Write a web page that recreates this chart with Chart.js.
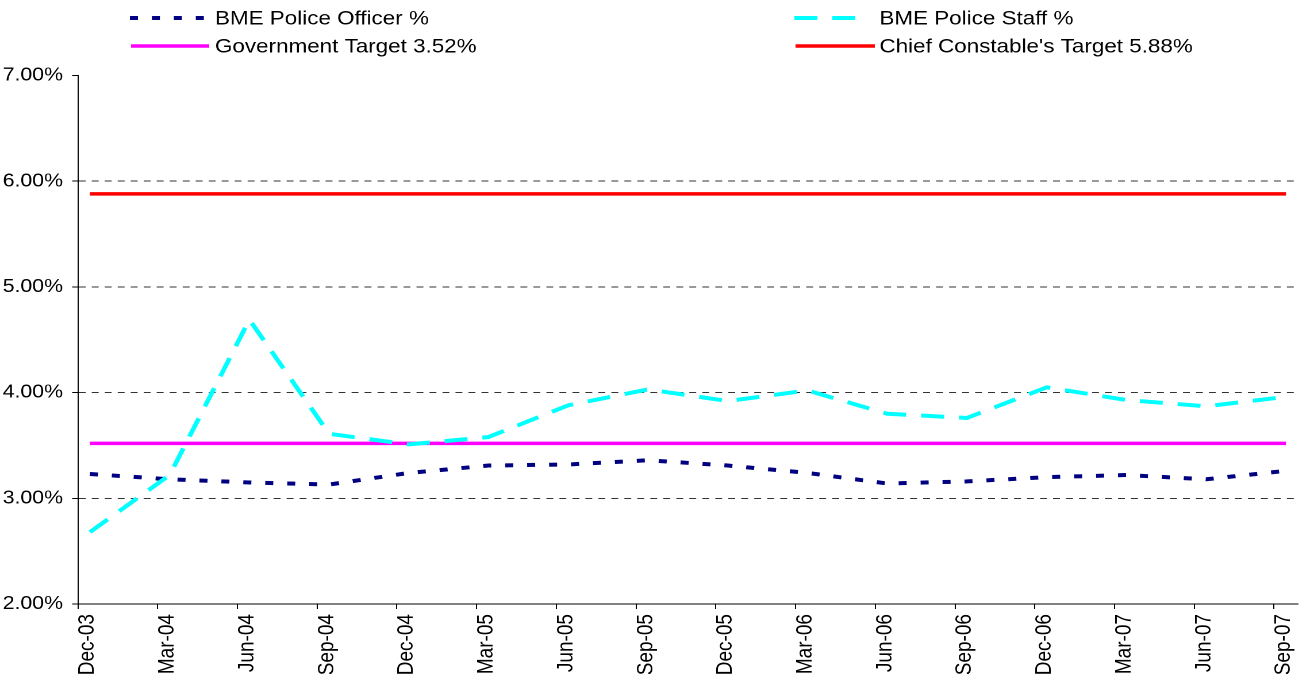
<!DOCTYPE html>
<html><head><meta charset="utf-8">
<script src="https://cdn.jsdelivr.net/npm/chart.js@4.4.1/dist/chart.umd.min.js"></script>
<style>
html,body{margin:0;padding:0;background:#fff;overflow:hidden;width:1306px;height:674px;}
#wrap{position:absolute;left:0;top:0;width:1136px;height:674px;transform:scaleX(1.1496);transform-origin:0 0;}
</style></head><body>
<div id="wrap"><canvas id="c" width="1136" height="674"></canvas></div>
<script>
const categories = ['Dec-03','Mar-04','Jun-04','Sep-04','Dec-04','Mar-05','Jun-05','Sep-05','Dec-05','Mar-06','Jun-06','Sep-06','Dec-06','Mar-07','Jun-07','Sep-07'];
const officerPct = [3.23,3.18,3.15,3.13,3.24,3.31,3.32,3.36,3.31,3.24,3.14,3.16,3.20,3.22,3.18,3.26];
const staffPct   = [2.68,3.22,4.69,3.61,3.51,3.58,3.88,4.03,3.92,4.02,3.80,3.76,4.05,3.93,3.87,3.96];
const governmentTarget = 3.52;
const chiefConstableTarget = 5.88;
const yMin = 2, yMax = 7, yStep = 1;
const seriesNames = ['BME Police Officer %','BME Police Staff %','Government Target 3.52%',"Chief Constable's Target 5.88%"];

const POINT_SHIFT = 0.15;
const FONT = '"Liberation Sans", Arial, sans-serif';
const toPoints = vals => vals.map((v,i)=>({x:i+POINT_SHIFT,y:v}));
const constPoints = v => categories.map((c,i)=>({x:i+POINT_SHIFT,y:v}));

const legendPlugin = {
  id:'gridLegend',
  afterDraw(chart){
    const ctx = chart.ctx;
    const items = [
      {ds:0, x:113, len:65, tx:187, y:18},
      {ds:1, x:691, len:58, tx:765, y:18},
      {ds:2, x:114, len:68, tx:187, y:46},
      {ds:3, x:692, len:69, tx:765, y:46}
    ];
    ctx.save();
    ctx.font = '19.5px ' + FONT;
    ctx.textBaseline = 'middle';
    ctx.textAlign = 'left';
    items.forEach(it=>{
      const ds = chart.data.datasets[it.ds];
      ctx.beginPath();
      ctx.setLineDash(ds.borderDash || []);
      ctx.lineWidth = ds.borderWidth;
      ctx.strokeStyle = ds.borderColor;
      ctx.lineCap = 'butt';
      ctx.moveTo(it.x, it.y); ctx.lineTo(it.x + it.len, it.y); ctx.stroke();
      ctx.setLineDash([]);
      ctx.fillStyle = '#000';
      ctx.fillText(ds.label, it.tx, it.y + 1);
    });
    ctx.restore();
  }
};

new Chart(document.getElementById('c'), {
  type:'line',
  data:{
    datasets:[
      {label:seriesNames[0], data:toPoints(officerPct), borderColor:'#000080', borderWidth:4, borderDash:[7,12.1], pointRadius:0, tension:0, fill:false, order:2},
      {label:seriesNames[1], data:toPoints(staffPct), borderColor:'#00FFFF', borderWidth:4, borderDash:[20,13], pointRadius:0, tension:0, fill:false, order:1},
      {label:seriesNames[2], data:constPoints(governmentTarget), borderColor:'#FF00FF', borderWidth:3.5, pointRadius:0, tension:0, fill:false, order:3},
      {label:seriesNames[3], data:constPoints(chiefConstableTarget), borderColor:'#FF0000', borderWidth:3.5, pointRadius:0, tension:0, fill:false, order:4}
    ]
  },
  options:{
    responsive:false,
    devicePixelRatio:2,
    animation:false,
    events:[],
    layout:{padding:{top:75.5,left:0,right:0,bottom:0}, autoPadding:false},
    plugins:{legend:{display:false}, tooltip:{enabled:false}},
    scales:{
      x:{
        type:'linear', min:0, max:15.3,
        afterFit(s){ s.height = 70; },
        grid:{drawOnChartArea:false, drawTicks:true, tickLength:5, tickColor:'#000', tickWidth:1},
        border:{display:true, color:'#000', width:1},
        ticks:{
          stepSize:1, includeBounds:false, autoSkip:false, maxRotation:90, minRotation:90,
          padding:5, labelOffset:8.7, color:'#000', font:{family:FONT, size:19},
          callback:(v)=> Number.isInteger(v) && categories[v] !== undefined ? categories[v] : ''
        }
      },
      y:{
        min:yMin, max:yMax,
        afterFit(s){ s.width = 67.8; },
        grid:{
          drawOnChartArea:true, drawTicks:true, tickLength:5, tickColor:'#000', tickWidth:1, lineWidth:1,
          color:(c)=> (c.tick && (c.tick.value === yMax || c.tick.value === yMin)) ? 'rgba(0,0,0,0)' : '#333333'
        },
        border:{display:true, color:'#000', width:1, dash:[6,5.3]},
        ticks:{
          stepSize:yStep, padding:8, color:'#000', font:{family:FONT, size:18.5},
          callback:(v)=> v.toFixed(2) + '%'
        }
      }
    }
  },
  plugins:[legendPlugin]
});
</script>
</body></html>
